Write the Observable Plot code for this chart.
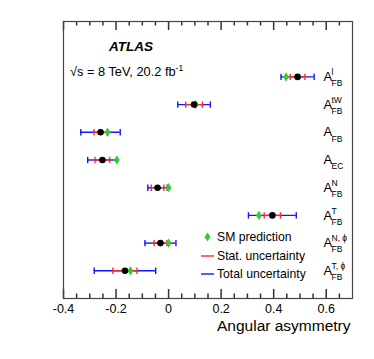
<!DOCTYPE html>
<html>
<head>
<meta charset="utf-8">
<script src="https://cdn.jsdelivr.net/npm/d3@7"></script>
<script src="https://cdn.jsdelivr.net/npm/@observablehq/plot@0.6"></script>
<style>
  html, body { margin: 0; padding: 0; background: white; }
  #chart svg { display: block; }
</style>
</head>
<body>
<div id="chart"></div>
<script>
// ---- data ----
const subs = ["FB", "FB", "FB", "EC", "FB", "FB", "FB", "FB"];
const sups = ["l", "tW", "", "", "N", "T", "N, \u03d5", "T, \u03d5"];
const measured = [0.491, 0.097, -0.259, -0.252, -0.042, 0.395, -0.031, -0.166];
const smPred   = [0.447, 0.103, -0.232, -0.197, 0.000, 0.344, 0.000, -0.145];
const statUnc  = [0.028, 0.032, 0.025, 0.028, 0.024, 0.031, 0.024, 0.046];
const totalUnc = [0.063, 0.062, 0.075, 0.056, 0.037, 0.091, 0.059, 0.117];
const majorTicks = [-0.4, -0.2, 0, 0.2, 0.4, 0.6];
const minorTicks = [-0.35, -0.3, -0.25, -0.15, -0.1, -0.05, 0.05, 0.1, 0.15, 0.25, 0.3, 0.35, 0.45, 0.5, 0.55, 0.65];
const legendItems = ["SM prediction", "Stat. uncertainty", "Total uncertainty"];

const rows = measured.map((m, i) => ({
  i, m, sm: smPred[i], stat: statUnc[i], tot: totalUnc[i], sub: subs[i], sup: sups[i]
}));

const BLUE = "#1515ff", RED = "#ff2a2a", GREEN = "#33cc33", AX = "#444", TICK = "#333";
const capSym = {draw(ctx) { ctx.moveTo(0, -3.2); ctx.lineTo(0, 3.2); }};
const diamond = {draw(ctx) { ctx.moveTo(0, -4.6); ctx.lineTo(3, 0); ctx.lineTo(0, 4.6); ctx.lineTo(-3, 0); ctx.closePath(); }};
const fmt = d => d === 0 ? "0" : d.toFixed(1);

const H = 359, MT = 21, MB = 61;
const FH = H - MT - MB;
const MAJ = 9, MIN = 4.5;

const plot = Plot.plot({
  width: 374,
  height: H,
  marginTop: MT,
  marginBottom: MB,
  marginLeft: 63,
  marginRight: 22,
  style: {fontFamily: "'Liberation Sans', Arial, sans-serif", fontSize: "12.5px", background: "white", color: "black"},
  x: {domain: [-0.4, 0.7]},
  y: {domain: [-2, 8], reverse: true, axis: null},
  marks: [
    Plot.axisX({anchor: "bottom", ticks: majorTicks, tickSize: 0, tickPadding: 6, tickFormat: fmt, fontSize: 12.5, fill: "black", label: null}),
    // inward ticks, bottom and top, through Plot's x scale
    Plot.ruleX(majorTicks, {x: d => d, insetTop: FH - MAJ, stroke: TICK, strokeWidth: 1.5}),
    Plot.ruleX(minorTicks, {x: d => d, insetTop: FH - MIN, stroke: TICK, strokeWidth: 1.5}),
    Plot.ruleX(majorTicks, {x: d => d, insetBottom: FH - MAJ, stroke: TICK, strokeWidth: 1.5}),
    Plot.ruleX(minorTicks, {x: d => d, insetBottom: FH - MIN, stroke: TICK, strokeWidth: 1.5}),
    Plot.frame({stroke: AX, strokeWidth: 1.2}),
    // total uncertainty
    Plot.ruleY(rows, {y: "i", x1: d => d.m - d.tot, x2: d => d.m + d.tot, stroke: BLUE, strokeWidth: 1.4}),
    Plot.dot(rows, {x: d => d.m - d.tot, y: "i", symbol: capSym, fill: "none", stroke: BLUE, strokeWidth: 1.4}),
    Plot.dot(rows, {x: d => d.m + d.tot, y: "i", symbol: capSym, fill: "none", stroke: BLUE, strokeWidth: 1.4}),
    // stat uncertainty
    Plot.ruleY(rows, {y: "i", x1: d => d.m - d.stat, x2: d => d.m + d.stat, stroke: RED, strokeWidth: 1.4}),
    Plot.dot(rows, {x: d => d.m - d.stat, y: "i", symbol: capSym, fill: "none", stroke: RED, strokeWidth: 1.4}),
    Plot.dot(rows, {x: d => d.m + d.stat, y: "i", symbol: capSym, fill: "none", stroke: RED, strokeWidth: 1.4}),
    // SM prediction
    Plot.dot(rows, {x: "sm", y: "i", symbol: diamond, fill: GREEN, stroke: "none"}),
    // measured
    Plot.dot(rows, {x: "m", y: "i", r: 3.3, fill: "black", stroke: "none"}),
    // labels
    Plot.text(rows, {y: "i", text: () => "A", frameAnchor: "right", dx: -29, textAnchor: "start", fontSize: 13, fill: "black"}),
    Plot.text(rows, {y: "i", text: "sub", frameAnchor: "right", dx: -21, dy: 6.5, textAnchor: "start", fontSize: 8.5, fill: "black"}),
    Plot.text(rows, {y: "i", text: "sup", frameAnchor: "right", dx: -21, dy: -4.5, textAnchor: "start", fontSize: 8.5, fill: "black"}),
    // x label
    Plot.text(["Angular asymmetry"], {text: d => d, frameAnchor: "bottom-right", dx: -2, dy: 21, lineAnchor: "top", textAnchor: "end", fontSize: 15.5, fill: "black"})
  ]
});

const svg = d3.select(plot);
// ATLAS label
svg.append("text").attr("x", 109).attr("y", 51).attr("text-anchor", "start").attr("font-size", 13.5).attr("font-weight", "bold").attr("font-style", "italic").attr("fill", "black").text("ATLAS");
const t = svg.append("text").attr("x", 70).attr("y", 76).attr("text-anchor", "start").attr("font-size", 12.8).attr("fill", "black");
t.append("tspan").text("\u221As = 8 TeV, 20.2 fb");
t.append("tspan").attr("dy", -5).attr("font-size", 8.5).text("-1");

// legend
const lg = svg.append("g").attr("text-anchor", "start");
const ly = [237, 256, 274];
lg.append("path").attr("d", d3.symbol(diamond)()).attr("transform", `translate(207.5,${ly[0]})`).attr("fill", GREEN);
lg.append("line").attr("x1", 201).attr("x2", 214).attr("y1", ly[1]).attr("y2", ly[1]).attr("stroke", RED).attr("stroke-width", 1.4);
lg.append("line").attr("x1", 201).attr("x2", 214).attr("y1", ly[2]).attr("y2", ly[2]).attr("stroke", BLUE).attr("stroke-width", 1.4);
legendItems.forEach((s, k) => {
  lg.append("text").attr("x", 217).attr("y", ly[k] + 4.3).attr("font-size", 12.2).attr("fill", "black").text(s);
});

document.getElementById("chart").appendChild(plot);
</script>
</body>
</html>
